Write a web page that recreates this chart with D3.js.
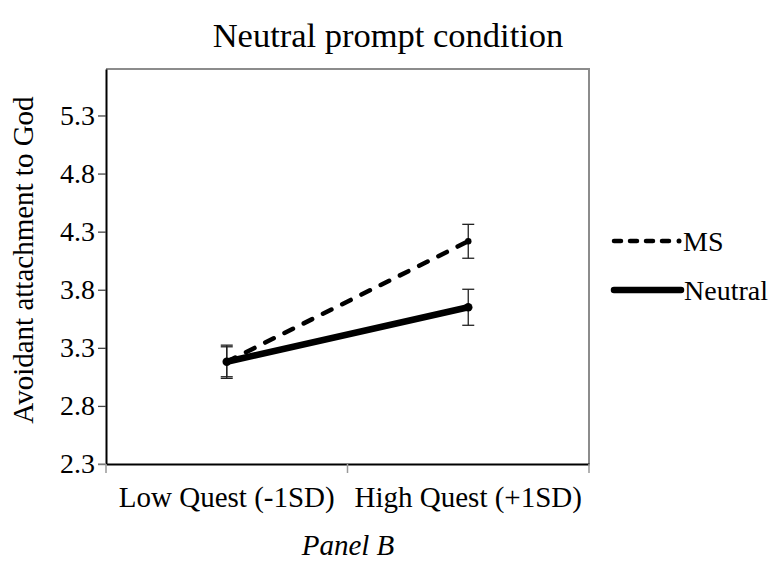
<!DOCTYPE html>
<html>
<head>
<meta charset="utf-8">
<script src="https://cdn.jsdelivr.net/npm/d3@7"></script>
<style>
  body { margin: 0; background: #fff; }
  text { font-family: "Liberation Serif", "Times New Roman", serif; fill: #000; }
</style>
</head>
<body>
<div class="chart"></div>
<script>
let FRAME_WIDTH = 770;
let FRAME_HEIGHT = 563;
let MARGINS = {left: 106, right: 181, top: 69, bottom: 99};

// data
let categories = ["Low Quest (-1SD)", "High Quest (+1SD)"];
let seriesNames = ["MS", "Neutral"];
let msValues = [3.18, 4.217];
let msErrors = [0.143, 0.146];
let neutralValues = [3.18, 3.649];
let neutralErrors = [0.129, 0.155];
let yTicks = [2.3, 2.8, 3.3, 3.8, 4.3, 4.8, 5.3];

let PLOT_WIDTH = FRAME_WIDTH - MARGINS.left - MARGINS.right;
let PLOT_HEIGHT = FRAME_HEIGHT - MARGINS.top - MARGINS.bottom;

let FRAME = d3.select(".chart")
              .append("svg")
              .attr("width", FRAME_WIDTH)
              .attr("height", FRAME_HEIGHT);

const X_SCALE = d3.scaleBand()
                  .domain(categories)
                  .range([0, PLOT_WIDTH]);

const Y_SCALE = d3.scaleLinear()
                  .domain([2.3, 5.7])
                  .range([PLOT_HEIGHT, 0]);

let plot = FRAME.append("g")
                .attr("transform", "translate(" + MARGINS.left + "," + MARGINS.top + ")");

// box: top and right in grey
plot.append("path")
    .attr("d", "M0,0H" + PLOT_WIDTH + "V" + PLOT_HEIGHT)
    .attr("fill", "none")
    .attr("stroke", "#8c8c8c")
    .attr("stroke-width", 2);

// y axis
let yAxis = plot.append("g")
    .call(d3.axisLeft(Y_SCALE).tickValues(yTicks).tickSize(8).tickSizeOuter(0)
            .tickFormat(d3.format(".1f")));
yAxis.select(".domain").attr("stroke", "#000").attr("stroke-width", 2);
yAxis.selectAll(".tick line").attr("stroke", "#444").attr("stroke-width", 1.3);
yAxis.selectAll(".tick text")
     .attr("x", -11)
     .attr("font-size", "28px")
     .attr("font-family", "Liberation Serif, serif");

// x axis
let xAxis = plot.append("g")
    .attr("transform", "translate(0," + PLOT_HEIGHT + ")")
    .call(d3.axisBottom(X_SCALE).tickSize(0).tickSizeOuter(0));
xAxis.select(".domain").attr("stroke", "#000").attr("stroke-width", 2);
xAxis.selectAll(".tick text")
     .attr("y", 22)
     .attr("font-size", "29px")
     .attr("font-family", "Liberation Serif, serif");
// category boundary ticks
let bounds = [0, X_SCALE.bandwidth(), PLOT_WIDTH];
xAxis.selectAll(".bound")
     .data(bounds)
     .enter()
     .append("line")
     .attr("x1", d => d).attr("x2", d => d)
     .attr("y1", 0).attr("y2", 9)
     .attr("stroke", "#999")
     .attr("stroke-width", 1.5);
// y axis extends slightly below the x axis
plot.append("line")
    .attr("x1", -8).attr("x2", 0)
    .attr("y1", PLOT_HEIGHT).attr("y2", PLOT_HEIGHT)
    .attr("stroke", "#999").attr("stroke-width", 1.3);

let cx = (d, i) => X_SCALE(categories[i]) + X_SCALE.bandwidth() / 2;

let series = [
  {name: seriesNames[0], values: msValues, errors: msErrors, width: 4.5, dash: "9.5,12"},
  {name: seriesNames[1], values: neutralValues, errors: neutralErrors, width: 6.5, dash: null}
];

// error bars
series.forEach(s => {
  s.values.forEach((v, i) => {
    let x = cx(v, i);
    let g = plot.append("g").attr("stroke", "#222").attr("stroke-width", 1.3);
    g.append("line").attr("x1", x).attr("x2", x)
     .attr("y1", Y_SCALE(v + s.errors[i])).attr("y2", Y_SCALE(v - s.errors[i]));
    [v + s.errors[i], v - s.errors[i]].forEach(e => {
      g.append("line").attr("x1", x - 6).attr("x2", x + 6)
       .attr("y1", Y_SCALE(e)).attr("y2", Y_SCALE(e));
    });
  });
});

// lines
let line = d3.line()
             .x((d, i) => cx(d, i))
             .y(d => Y_SCALE(d));

series.forEach(s => {
  plot.append("path")
      .datum(s.values)
      .attr("d", line)
      .attr("fill", "none")
      .attr("stroke", "#000")
      .attr("stroke-width", s.width)
      .attr("stroke-linecap", "round")
      .attr("stroke-dasharray", s.dash);
  plot.selectAll(null)
      .data(s.values)
      .enter()
      .append("circle")
      .attr("cx", (d, i) => cx(d, i))
      .attr("cy", d => Y_SCALE(d))
      .attr("r", s.width / 2 + 1)
      .attr("fill", "#000");
});

// legend
let legendY = [241, 290];
series.forEach((s, i) => {
  FRAME.append("line")
       .attr("x1", 614).attr("x2", s.dash ? 670 : 681)
       .attr("y1", legendY[i]).attr("y2", legendY[i])
       .attr("stroke", "#000")
       .attr("stroke-width", s.width)
       .attr("stroke-linecap", "round")
       .attr("stroke-dasharray", s.dash ? "7,9" : null);
  if (s.dash) {
    FRAME.append("circle")
         .attr("cx", 679).attr("cy", legendY[i])
         .attr("r", 2.5).attr("fill", "#000");
  }
  FRAME.append("text")
       .attr("x", s.dash ? 683 : 684)
       .attr("y", legendY[i] + 10)
       .attr("font-size", "28px")
       .text(s.name);
});

// titles
FRAME.append("text")
     .attr("x", 388).attr("y", 47)
     .attr("text-anchor", "middle")
     .attr("font-size", "34.5px")
     .text("Neutral prompt condition");

FRAME.append("text")
     .attr("transform", "translate(33,260) rotate(-90)")
     .attr("text-anchor", "middle")
     .attr("font-size", "29px")
     .text("Avoidant attachment to God");

FRAME.append("text")
     .attr("x", 348).attr("y", 555)
     .attr("text-anchor", "middle")
     .attr("font-size", "29px")
     .attr("font-style", "italic")
     .text("Panel B");
</script>
</body>
</html>
